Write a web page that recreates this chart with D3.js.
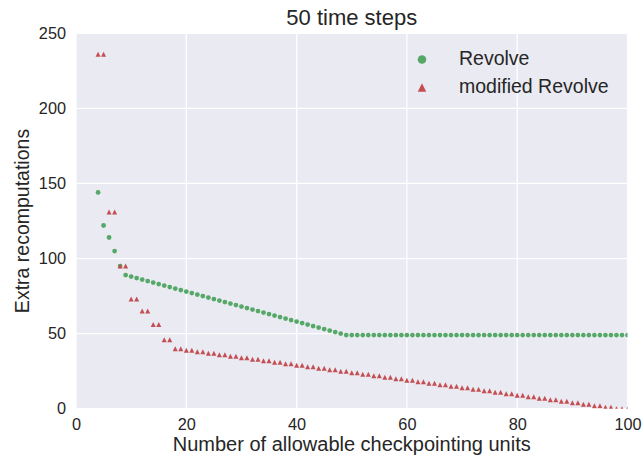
<!DOCTYPE html>
<html lang="en">
<head>
  <meta charset="UTF-8">
  <title>50 time steps</title>
  <style>
    body { margin: 0; background: #fff; }
    text { font-family: Arial, "Liberation Sans", sans-serif; fill: #262626; }
    .axis .domain { display: none; }
  </style>
</head>
<body>
  <script src="https://d3js.org/d3.v7.min.js"></script>
  <div id="chart"></div>
  <script>
    // number of checkpointing units (x)
    var units = [4, 5, 6, 7, 8, 9, 10, 11, 12, 13, 14, 15, 16, 17, 18, 19, 20, 21, 22, 23, 24, 25, 26, 27, 28, 29,
      30, 31, 32, 33, 34, 35, 36, 37, 38, 39, 40, 41, 42, 43, 44, 45, 46, 47, 48, 49, 50, 51, 52, 53, 54, 55, 56, 57,
      58, 59, 60, 61, 62, 63, 64, 65, 66, 67, 68, 69, 70, 71, 72, 73, 74, 75, 76, 77, 78, 79, 80, 81, 82, 83, 84, 85,
      86, 87, 88, 89, 90, 91, 92, 93, 94, 95, 96, 97, 98, 99, 100];

    // Revolve extra recomputations
    var revolve = [144, 122, 114, 105, 95, 89, 88, 87, 86, 85, 84, 83, 82, 81, 80, 79, 78, 77, 76, 75, 74, 73, 72, 71,
      70, 69, 68, 67, 66, 65, 64, 63, 62, 61, 60, 59, 58, 57, 56, 55, 54, 53, 52, 51, 50, 49, 49, 49, 49, 49, 49, 49,
      49, 49, 49, 49, 49, 49, 49, 49, 49, 49, 49, 49, 49, 49, 49, 49, 49, 49, 49, 49, 49, 49, 49, 49, 49, 49, 49, 49,
      49, 49, 49, 49, 49, 49, 49, 49, 49, 49, 49, 49, 49, 49, 49, 49, 49];

    // modified Revolve extra recomputations
    var modified = [236, 236, 131, 131, 95, 95, 73, 73, 65, 65, 56, 56, 46, 46, 40, 40, 39, 39, 38, 38, 37, 37, 36, 36,
      35, 35, 34, 34, 33, 33, 32, 32, 31, 31, 30, 30, 29, 29, 28, 28, 27, 27, 26, 26, 25, 25, 24, 24, 23, 23, 22, 22,
      21, 21, 20, 20, 19, 19, 18, 18, 17, 17, 16, 16, 15, 15, 14, 14, 13, 13, 12, 12, 11, 11, 10, 10, 9, 9, 8, 8, 7, 7,
      6, 6, 5, 5, 4, 4, 3, 3, 2, 2, 1, 1, 0, 0, 0];

    var xTicks = [0, 20, 40, 60, 80, 100];
    var yTicks = [0, 50, 100, 150, 200, 250];

    var W = 644, H = 460;
    var margin = { top: 33.3, right: 16.5, bottom: 51.3, left: 76 };
    var width = W - margin.left - margin.right,
      height = H - margin.top - margin.bottom;

    var svg = d3.select("#chart").append("svg")
      .attr("width", W).attr("height", H);

    var g = svg.append("g")
      .attr("transform", "translate(" + margin.left + "," + margin.top + ")");

    var x = d3.scaleLinear().domain([0, 100]).range([0, width]);
    var y = d3.scaleLinear().domain([0, 250]).range([height, 0]);

    // background
    g.append("rect").attr("width", width).attr("height", height).attr("fill", "#EAEAF2");

    // grid
    g.selectAll(".gx").data(xTicks).enter().append("line")
      .attr("x1", d => x(d)).attr("x2", d => x(d))
      .attr("y1", 0).attr("y2", height)
      .attr("stroke", "#fff").attr("stroke-width", 1.3);
    g.selectAll(".gy").data(yTicks).enter().append("line")
      .attr("y1", d => y(d)).attr("y2", d => y(d))
      .attr("x1", 0).attr("x2", width)
      .attr("stroke", "#fff").attr("stroke-width", 1.3);

    // axes
    g.append("g").attr("class", "axis")
      .attr("transform", "translate(0," + height + ")")
      .call(d3.axisBottom(x).tickValues(xTicks).tickSize(0).tickPadding(10))
      .selectAll("text").style("font-size", "16.3px").attr("fill", "#262626");
    g.append("g").attr("class", "axis")
      .call(d3.axisLeft(y).tickValues(yTicks).tickSize(0).tickPadding(10))
      .selectAll("text").style("font-size", "16.3px").attr("fill", "#262626");

    // clip
    svg.append("clipPath").attr("id", "clip")
      .append("rect").attr("width", width).attr("height", height);
    var plot = g.append("g").attr("clip-path", "url(#clip)");

    var green = "#55A868", red = "#C44E52";

    function tri(s) {
      return "M0," + (-s / 2) + "L" + (s / 2) + "," + (s / 2) + "L" + (-s / 2) + "," + (s / 2) + "Z";
    }

    plot.selectAll(".rev").data(units).enter().append("circle")
      .attr("cx", d => x(d))
      .attr("cy", (d, i) => y(revolve[i]))
      .attr("r", 2.4)
      .attr("fill", green);

    plot.selectAll(".mod").data(units).enter().append("path")
      .attr("d", tri(5))
      .attr("transform", (d, i) => "translate(" + x(d) + "," + y(modified[i]) + ")")
      .attr("fill", red);

    // title and labels
    svg.append("text").attr("x", margin.left + width / 2).attr("y", 25)
      .attr("text-anchor", "middle").style("font-size", "22px").text("50 time steps");
    svg.append("text").attr("x", margin.left + width / 2).attr("y", 451)
      .attr("text-anchor", "middle").style("font-size", "20px").text("Number of allowable checkpointing units");
    svg.append("text")
      .attr("transform", "translate(29," + (margin.top + height / 2) + ") rotate(-90)")
      .attr("text-anchor", "middle").style("font-size", "19.5px").text("Extra recomputations");

    // legend
    var legend = svg.append("g").attr("transform", "translate(422,0)");
    legend.append("circle").attr("cx", 0).attr("cy", 59.5).attr("r", 4.3).attr("fill", green);
    legend.append("path").attr("d", tri(8.5)).attr("transform", "translate(0,87.5)").attr("fill", red);
    legend.append("text").attr("x", 37).attr("y", 64.5).style("font-size", "19.5px").text("Revolve");
    legend.append("text").attr("x", 37).attr("y", 92.5).style("font-size", "19.5px").text("modified Revolve");
  </script>
</body>
</html>
